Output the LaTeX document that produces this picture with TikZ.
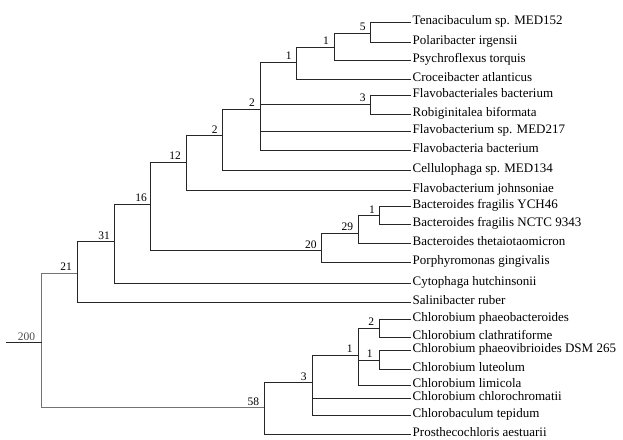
\documentclass[tikz,border=0pt]{standalone}
\usepackage{fontspec}
\setmainfont{Liberation Serif}
\begin{document}
\begin{tikzpicture}[x=1pt,y=-1pt,
  br/.style={line width=1pt, draw=black!85},
  brlight/.style={line width=1pt, draw=black!55},
  leaf/.style={anchor=west, inner xsep=1.5pt, inner ysep=0pt, text height=9pt, text depth=5pt, font=\fontsize{13}{15}\selectfont},
  lab/.style={anchor=base east, inner sep=0pt, font=\fontsize{11.5}{13}\selectfont}]
\useasboundingbox (0,0) rectangle (623,439);

% leaves
\node[leaf] (L1)  at (411,22.7)  {Tenacibaculum sp. MED152};
\node[leaf] (L2)  at (411,42.7)  {Polaribacter irgensii};
\node[leaf] (L3)  at (411,60.7)  {Psychroflexus torquis};
\node[leaf] (L4)  at (411,79)    {Croceibacter atlanticus};
\node[leaf] (L5)  at (411,95)    {Flavobacteriales bacterium};
\node[leaf] (L6)  at (411,114)   {Robiginitalea biformata};
\node[leaf] (L7)  at (411,131)   {Flavobacterium sp. MED217};
\node[leaf] (L8)  at (411,150.7) {Flavobacteria bacterium};
\node[leaf] (L9)  at (411,170.3) {Cellulophaga sp. MED134};
\node[leaf] (L10) at (411,190)   {Flavobacterium johnsoniae};
\node[leaf] (L11) at (411,206)   {Bacteroides fragilis YCH46};
\node[leaf] (L12) at (411,224.7) {Bacteroides fragilis NCTC 9343};
\node[leaf] (L13) at (411,243.3) {Bacteroides thetaiotaomicron};
\node[leaf] (L14) at (411,262.7) {Porphyromonas gingivalis};
\node[leaf] (L15) at (411,283)   {Cytophaga hutchinsonii};
\node[leaf] (L16) at (411,302.7) {Salinibacter ruber};
\node[leaf] (L17) at (411,319.3) {Chlorobium phaeobacteroides};
\node[leaf] (L18) at (411,337.7) {Chlorobium clathratiforme};
\node[leaf] (L19) at (411,350.7) {Chlorobium phaeovibrioides DSM 265};
\node[leaf] (L20) at (411,369.3) {Chlorobium luteolum};
\node[leaf] (L21) at (411,385.3) {Chlorobium limicola};
\node[leaf] (L22) at (411,398.3) {Chlorobium chlorochromatii};
\node[leaf] (L23) at (411,415.3) {Chlorobaculum tepidum};
\node[leaf] (L24) at (411,434)   {Prosthecochloris aestuarii};

% internal nodes
\coordinate (n5)   at (370.7,33.3);
\coordinate (n1a)  at (334,47.3);
\coordinate (n1b)  at (296.7,62.3);
\coordinate (n3)   at (370.7,104.3);
\coordinate (n2u)  at (260,109);
\coordinate (n2l)  at (222.7,135.7);
\coordinate (n12)  at (186,162);
\coordinate (nb1)  at (379,215);
\coordinate (n29)  at (358.3,233.3);
\coordinate (n20)  at (321.7,250.7);
\coordinate (n16)  at (150,204.3);
\coordinate (n31)  at (114,241.7);
\coordinate (n21)  at (77,273);
\coordinate (nc2)  at (379.3,328.3);
\coordinate (nc1b) at (379.3,360);
\coordinate (nc1)  at (358.7,355);
\coordinate (nc3)  at (312.7,382.7);
\coordinate (n58)  at (264.3,407.7);
\coordinate (root) at (41.7,342.7);
\coordinate (rootstart) at (6,342.7);

% branches
\foreach \p/\c in {n5/L1.west, n5/L2.west, n1a/n5, n1a/L3.west, n1b/n1a, n1b/L4.west,
  n3/L5.west, n3/L6.west, n2u/n1b, n2u/n3, n2u/L7.west, n2u/L8.west,
  n2l/n2u, n2l/L9.west, n12/n2l, n12/L10.west,
  nb1/L11.west, nb1/L12.west, n29/nb1, n29/L13.west, n20/n29, n20/L14.west,
  n16/n12, n16/n20, n31/n16, n31/L15.west, n21/n31, n21/L16.west,
  nc2/L17.west, nc2/L18.west, nc1b/L19.west, nc1b/L20.west,
  nc1/nc2, nc1/nc1b, nc1/L21.west, nc3/nc1, nc3/L22.west, nc3/L23.west,
  n58/nc3, n58/L24.west}
  \draw[br] (\p) |- (\c);
\draw[brlight] (root) |- (n21);
\draw[brlight] (root) |- (n58);
\draw[br] (rootstart) -- (root);

% support values
\node[lab] (k5)   at ([shift={(-5,-2.5)}]n5)   {5};
\node[lab] (k1a)  at ([shift={(-5,-2.5)}]n1a)  {1};
\node[lab] (k1b)  at ([shift={(-5,-2.5)}]n1b)  {1};
\node[lab] (k3)   at ([shift={(-5,-2.5)}]n3)   {3};
\node[lab] (k2u)  at ([shift={(-5,-2.5)}]n2u)  {2};
\node[lab] (k2l)  at ([shift={(-5,-2.5)}]n2l)  {2};
\node[lab] (k12)  at ([shift={(-5,-2.5)}]n12)  {12};
\node[lab] (kb1)  at ([shift={(-4,-2)}]nb1)    {1};
\node[lab] (k29)  at ([shift={(-5,-2.5)}]n29)  {29};
\node[lab] (k20)  at ([shift={(-5,-2.5)}]n20)  {20};
\node[lab] (k16)  at ([shift={(-3,-2.5)}]n16)  {16};
\node[lab] (k31)  at ([shift={(-4,-2.5)}]n31)  {31};
\node[lab] (k21)  at ([shift={(-5,-3)}]n21)    {21};
\node[lab] (kc2)  at ([shift={(-5,-2.5)}]nc2)  {2};
\node[lab] (kc1b) at ([shift={(-6.5,-2.5)}]nc1b) {1};
\node[lab] (kc1)  at ([shift={(-6,-3)}]nc1)    {1};
\node[lab] (kc3)  at ([shift={(-6,-2.5)}]nc3)  {3};
\node[lab] (k58)  at ([shift={(-5,-2.5)}]n58)  {58};
\node[lab, text=black!70] (k200) at ([shift={(-6.5,-2)}]root) {200};
\end{tikzpicture}
\end{document}
